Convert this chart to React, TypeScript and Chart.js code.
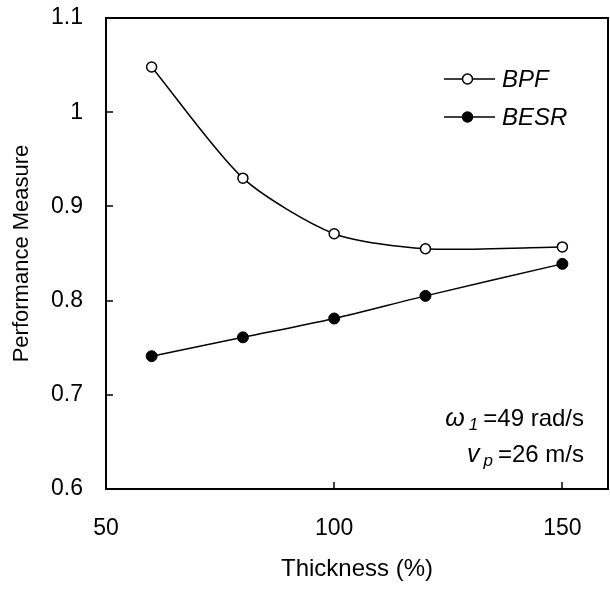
import React, { useEffect, useRef } from "react";
import { Chart, registerables } from "chart.js";

Chart.register(...registerables);

const thickness = [60, 80, 100, 120, 150];
const bpfValues = [1.048, 0.93, 0.871, 0.855, 0.857];
const besrValues = [0.741, 0.761, 0.781, 0.805, 0.839];
const seriesLabels = ["BPF", "BESR"];
const xTicks = [50, 100, 150];
const yTicks = [0.6, 0.7, 0.8, 0.9, 1.0, 1.1];
const xTitle = "Thickness (%)";
const yTitle = "Performance Measure";
const noteLines = [
  { sym: "ω", sub: "1", rest: "=49 rad/s" },
  { sym: "v", sub: "p", rest: "=26 m/s" },
];

const FONT = "'Liberation Sans', Arial, Helvetica, sans-serif";

export default function App() {
  const ref = useRef<HTMLCanvasElement | null>(null);

  useEffect(() => {
    document.body.style.margin = "0";
    const canvas = ref.current;
    if (!canvas) return;

    const framePlugin = {
      id: "frame",
      afterDatasetsDraw(chart: any) {
        const { ctx, chartArea } = chart;
        const { left, right, top, bottom } = chartArea;
        ctx.save();
        ctx.strokeStyle = "#000";
        ctx.lineWidth = 2;
        ctx.strokeRect(left, top, right - left, bottom - top);
        // inward ticks
        const xs = chart.scales.x;
        const ys = chart.scales.y;
        ctx.lineWidth = 1.5;
        ctx.beginPath();
        xTicks.forEach((v) => {
          const px = Math.round(xs.getPixelForValue(v));
          if (px > left + 2 && px < right - 2) {
            ctx.moveTo(px, bottom);
            ctx.lineTo(px, bottom - 7);
          }
        });
        yTicks.forEach((v) => {
          const py = Math.round(ys.getPixelForValue(v));
          if (py > top + 2 && py < bottom - 2) {
            ctx.moveTo(left, py);
            ctx.lineTo(left + 7, py);
          }
        });
        ctx.stroke();

        // legend
        const legX1 = left + 338;
        const legX2 = left + 389;
        const legYs = [top + 61, top + 99];
        chart.data.datasets.forEach((ds: any, i: number) => {
          const y = legYs[i];
          ctx.lineWidth = 1.5;
          ctx.strokeStyle = "#000";
          ctx.beginPath();
          ctx.moveTo(legX1, y);
          ctx.lineTo(legX2, y);
          ctx.stroke();
          ctx.beginPath();
          ctx.arc((legX1 + legX2) / 2 - 2, y, 5, 0, Math.PI * 2);
          ctx.fillStyle = ds.pointBackgroundColor;
          ctx.fill();
          ctx.stroke();
          ctx.fillStyle = "#000";
          ctx.font = `italic 24px ${FONT}`;
          ctx.textAlign = "left";
          ctx.textBaseline = "middle";
          ctx.fillText(ds.label, legX2 + 7, y + 1);
        });

        // annotations
        const noteRight = right - 24;
        const baselines = [bottom - 63, bottom - 27];
        noteLines.forEach((ln, i) => {
          const big = `24px ${FONT}`;
          const ital = `italic 25px ${FONT}`;
          const subF = `italic 17px ${FONT}`;
          const g1 = 4;
          const g2 = 5;
          ctx.font = ital;
          const wSym = ctx.measureText(ln.sym).width;
          ctx.font = subF;
          const wSub = ctx.measureText(ln.sub).width;
          ctx.font = big;
          const wRest = ctx.measureText(ln.rest).width;
          const total = wSym + g1 + wSub + g2 + wRest;
          let x = noteRight - total;
          const b = baselines[i];
          ctx.textAlign = "left";
          ctx.textBaseline = "alphabetic";
          ctx.fillStyle = "#000";
          ctx.font = ital;
          ctx.fillText(ln.sym, x, b);
          x += wSym + g1;
          ctx.font = subF;
          ctx.fillText(ln.sub, x, b + 4);
          x += wSub + g2;
          ctx.font = big;
          ctx.fillText(ln.rest, x, b);
        });
        ctx.restore();
      },
    };

    const chart = new Chart(canvas, {
      type: "line",
      data: {
        datasets: [
          {
            label: seriesLabels[0],
            data: thickness.map((x, i) => ({ x, y: bpfValues[i] })),
            borderColor: "#000",
            borderWidth: 1.5,
            pointRadius: 5,
            pointBorderWidth: 1.5,
            pointBackgroundColor: "#fff",
            pointBorderColor: "#000",
            tension: 0.25,
            fill: false,
          },
          {
            label: seriesLabels[1],
            data: thickness.map((x, i) => ({ x, y: besrValues[i] })),
            borderColor: "#000",
            borderWidth: 1.5,
            pointRadius: 5.5,
            pointBorderWidth: 1,
            pointBackgroundColor: "#000",
            pointBorderColor: "#000",
            tension: 0.3,
            fill: false,
          },
        ],
      },
      options: {
        responsive: false,
        animation: false,
        layout: { autoPadding: false, padding: { top: 18, right: 2, left: 0, bottom: 0 } },
        plugins: {
          legend: { display: false },
          tooltip: { enabled: false },
          title: { display: false },
        },
        scales: {
          x: {
            type: "linear",
            min: 50,
            max: 160,
            grid: { display: false, drawTicks: false },
            border: { display: false },
            afterBuildTicks: (s: any) => {
              s.ticks = xTicks.map((v) => ({ value: v }));
            },
            afterFit: (s: any) => {
              s.height = 100;
              s.paddingLeft = 0;
              s.paddingRight = 0;
              s.paddingTop = 0;
              s.paddingBottom = 0;
            },
            ticks: {
              color: "#000",
              padding: 26,
              font: { family: FONT, size: 23 },
              maxRotation: 0,
              callback: (v: any) => String(v),
            },
            title: {
              display: true,
              text: xTitle,
              color: "#000",
              font: { family: FONT, size: 24 },
              padding: { top: 0, bottom: 5 },
            },
          },
          y: {
            type: "linear",
            min: 0.6,
            max: 1.1,
            grid: { display: false, drawTicks: false },
            border: { display: false },
            afterBuildTicks: (s: any) => {
              s.ticks = yTicks.map((v) => ({ value: v }));
            },
            afterFit: (s: any) => {
              s.width = 106;
              s.paddingLeft = 0;
              s.paddingRight = 0;
              s.paddingTop = 0;
              s.paddingBottom = 0;
            },
            ticks: {
              color: "#000",
              padding: 23,
              font: { family: FONT, size: 23 },
              callback: (v: any) => String(Math.round(Number(v) * 10) / 10),
            },
            title: {
              display: true,
              text: yTitle,
              color: "#000",
              font: { family: FONT, size: 22 },
              padding: { top: 9, bottom: 0 },
            },
          },
        },
      },
      plugins: [framePlugin],
    } as any);

    return () => chart.destroy();
  }, []);

  return <canvas ref={ref} width={610} height={589} style={{ display: "block" }} />;
}
